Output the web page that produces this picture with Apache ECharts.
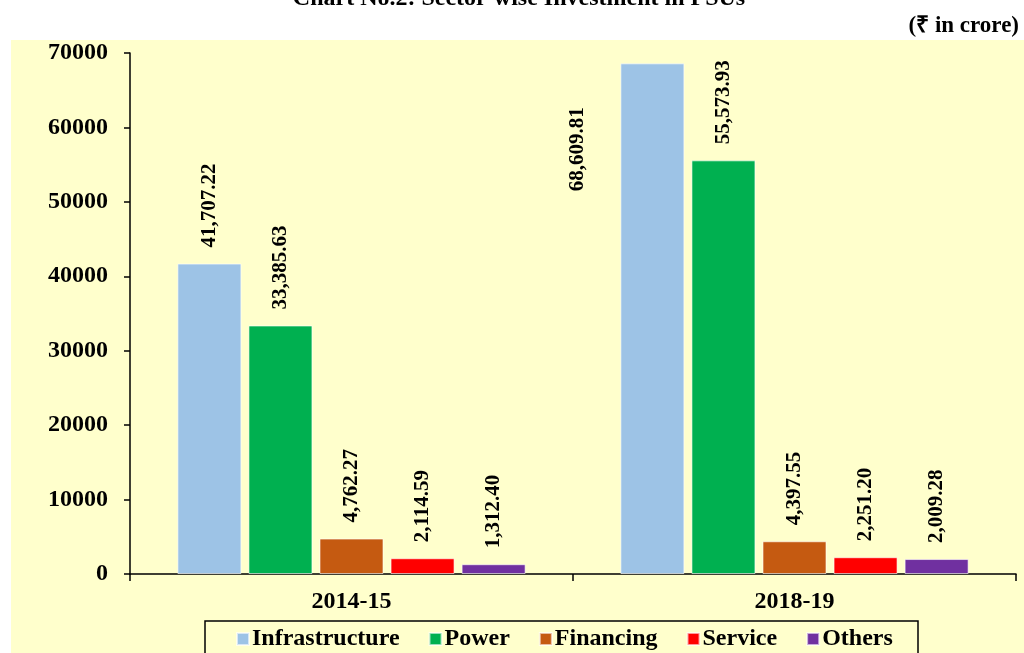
<!DOCTYPE html>
<html>
<head>
<meta charset="utf-8">
<script src="https://cdn.jsdelivr.net/npm/echarts@6/dist/echarts.min.js"></script>
<style>
html,body{margin:0;padding:0;background:#ffffff;}
#c{width:1024px;height:653px;}
</style>
</head>
<body>
<div id="c"></div>
<script>
const categories = ['2014-15', '2018-19'];
const seriesNames = ['Infrastructure', 'Power', 'Financing', 'Service', 'Others'];
const infrastructure = [41707.22, 68609.81];
const power = [33385.63, 55573.93];
const financing = [4762.27, 4397.55];
const service = [2114.59, 2251.20];
const others = [1312.40, 2009.28];
const colors = ['#9DC3E6', '#00B050', '#C55A11', '#FF0000', '#7030A0'];
const yTicks = { min: 0, max: 70000, interval: 10000 };

const FONT = "'Liberation Serif', 'Times New Roman', serif";
const values = [infrastructure, power, financing, service, others];

function fmt(v) {
  return v.toLocaleString('en-US', { minimumFractionDigits: 2, maximumFractionDigits: 2 });
}

const baseLabel = {
  show: true,
  position: 'top',
  distance: 16,
  rotate: 90,
  align: 'left',
  verticalAlign: 'middle',
  fontFamily: FONT,
  fontWeight: 'bold',
  fontSize: 21,
  color: '#000',
  formatter: p => fmt(p.value)
};

const series = seriesNames.map((name, i) => ({
  name: name,
  type: 'bar',
  barGap: '11%',
  barCategoryGap: '21.4%',
  itemStyle: { color: colors[i], borderColor: 'rgba(255,255,255,0.6)', borderWidth: 1 },
  label: baseLabel,
  data: values[i].map((v, j) => {
    if (i === 0 && j === 1) {
      return {
        value: v,
        label: {
          position: 'top',
          distance: 0,
          align: 'center',
          verticalAlign: 'middle',
          offset: [-86, -75]
        }
      };
    }
    return v;
  })
}));

const chart = echarts.init(document.getElementById('c'), null, { renderer: 'canvas' });
chart.setOption({
  animation: false,
  backgroundColor: '#ffffff',
  graphic: [
    { type: 'rect', z: -10, silent: true, shape: { x: 11, y: 40, width: 1013, height: 613 }, style: { fill: '#FFFFCC' } },
    { type: 'text', z: 10, style: { text: 'Chart No.2: Sector-wise Investment in PSUs', x: 519, y: 11, textAlign: 'center', textVerticalAlign: 'bottom', font: "bold 24px " + FONT, fill: '#000' } },
    { type: 'text', z: 10, style: { text: '(\u20B9 in crore)', x: 1019, y: 26, textAlign: 'right', textVerticalAlign: 'middle', font: "bold 23px " + FONT, fill: '#000' } },
    { type: 'rect', z: 10, silent: true, shape: { x: 205, y: 621, width: 713, height: 40 }, style: { fill: 'none', stroke: '#000', lineWidth: 1.5 } }
  ],
  grid: { left: 130, right: 8, top: 53, bottom: 79, containLabel: false },
  legend: {
    data: seriesNames,
    left: 236,
    top: 627,
    padding: 0,
    itemWidth: 12,
    itemHeight: 12,
    itemGap: 29,
    icon: 'rect',
    textStyle: { fontFamily: FONT, fontWeight: 'bold', fontSize: 24, color: '#000', padding: [0, 0, 0, -2], lineHeight: 24 }
  },
  xAxis: {
    type: 'category',
    data: categories,
    axisLine: { lineStyle: { color: '#000', width: 1.5 } },
    axisTick: { show: true, length: 7, lineStyle: { color: '#000', width: 1.5 } },
    axisLabel: { margin: 16, fontFamily: FONT, fontWeight: 'bold', fontSize: 24, color: '#000' },
    splitLine: { show: false }
  },
  yAxis: {
    type: 'value',
    min: yTicks.min,
    max: yTicks.max,
    interval: yTicks.interval,
    axisLine: { show: true, lineStyle: { color: '#000', width: 1.5 } },
    axisTick: { show: true, length: 6, lineStyle: { color: '#000', width: 1.5 } },
    axisLabel: { margin: 22, fontFamily: FONT, fontWeight: 'bold', fontSize: 24, color: '#000', formatter: v => String(v) },
    splitLine: { show: false }
  },
  series: series
});
</script>
</body>
</html>
